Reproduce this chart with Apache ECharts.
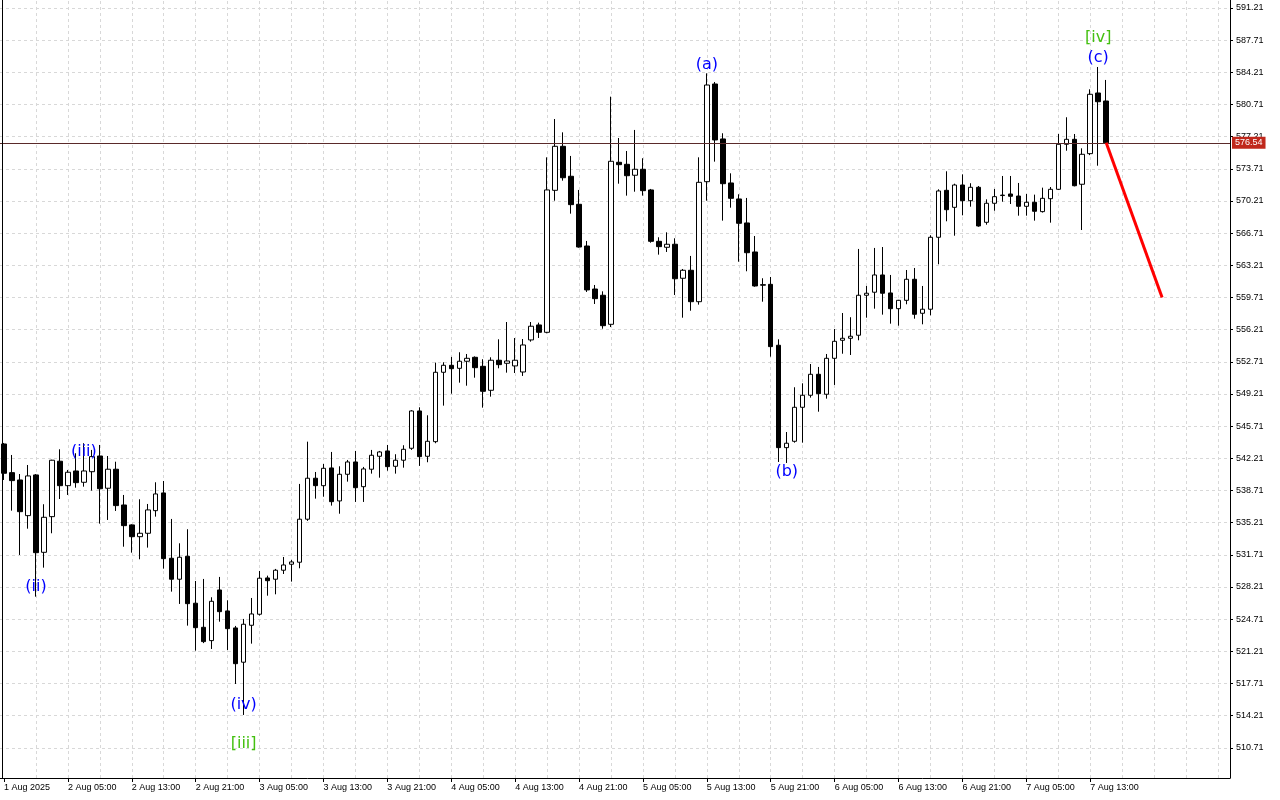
<!DOCTYPE html>
<html><head><meta charset="utf-8">
<script src="https://cdn.jsdelivr.net/npm/echarts@6/dist/echarts.min.js"></script>
<style>html,body{margin:0;padding:0;background:#fff}#c{width:1280px;height:800px}</style>
</head><body><div id="c"></div>
<script>
// hourly bars starting 1 Aug 2025 21:00
const opens = [543.77,540.65,539.85,535.97,540.40,531.98,535.86,541.89,539.23,540.83,539.60,540.75,542.46,538.95,541.02,537.13,534.96,533.68,534.05,536.51,
538.44,531.33,529.05,531.55,526.44,523.82,522.37,527.88,525.60,523.75,520.02,524.04,525.24,529.19,529.05,530.03,530.68,530.90,535.58,540.04,
539.23,541.16,537.57,540.47,541.81,539.12,541.02,542.43,543.01,541.34,542.00,543.30,547.36,542.43,544.02,551.57,552.33,552.00,552.77,553.20,
552.22,549.61,552.88,552.55,552.26,551.60,555.09,556.72,555.92,571.37,576.16,572.90,569.85,565.31,560.63,559.95,556.79,574.42,574.20,573.01,
573.66,571.41,565.82,565.17,565.50,561.80,562.67,559.25,572.31,582.94,576.96,572.17,570.43,567.82,564.66,561.10,561.14,554.51,543.37,544.06,
547.76,549.07,551.35,549.18,553.09,555.05,555.27,555.60,559.95,560.28,562.16,560.20,558.49,559.40,561.69,557.99,558.43,566.26,571.37,569.52,
571.95,570.24,571.70,567.89,569.96,570.80,570.97,570.75,569.63,570.07,569.05,570.46,571.48,576.38,576.92,572.03,575.36,581.96,581.09];
const highs = [543.88,542.57,540.50,541.48,540.50,537.21,542.05,543.19,540.94,542.76,543.85,543.12,543.66,542.46,541.84,538.22,535.03,537.75,537.24,539.60,
539.74,535.61,532.96,534.49,528.86,529.08,527.09,529.30,526.76,523.97,524.73,527.01,529.95,529.44,530.17,531.47,531.15,539.42,544.02,540.72,
541.59,542.90,541.34,542.03,543.01,541.27,543.12,543.01,543.66,542.65,543.63,547.45,547.76,546.89,552.62,552.66,553.24,553.75,553.56,553.30,
552.99,553.20,555.16,557.04,555.30,555.19,557.04,556.97,574.96,579.13,577.68,575.11,571.41,565.86,561.07,560.38,581.56,577.06,575.65,577.94,
574.86,571.52,566.26,566.80,566.15,562.81,564.23,574.96,584.10,583.16,577.58,573.22,570.94,570.54,566.40,561.80,561.94,555.16,545.07,549.94,
550.37,552.47,552.15,553.56,556.28,558.02,557.56,564.99,560.96,565.10,565.20,562.16,559.45,562.70,562.92,560.96,566.48,571.48,573.44,572.09,
573.11,572.14,571.84,570.39,571.52,572.93,572.93,572.17,570.97,570.90,571.66,571.73,577.50,579.32,577.50,575.94,582.36,584.79,583.38];
const lows = [539.85,536.51,531.69,534.55,527.15,530.31,534.05,537.78,538.22,539.01,539.12,538.69,535.10,535.50,536.48,532.59,531.94,531.22,532.49,535.86,
530.20,527.70,526.36,524.00,521.28,522.10,521.46,524.43,521.35,517.65,514.28,522.04,525.10,527.26,527.41,529.62,528.79,530.24,535.40,537.82,
538.03,537.06,536.18,539.67,537.46,537.46,540.54,540.10,540.86,540.54,541.19,543.12,541.38,541.78,543.85,547.94,549.24,550.44,550.11,550.98,
547.72,548.92,552.00,551.53,551.49,551.17,554.90,555.30,555.81,570.24,572.42,568.83,565.13,560.31,559.00,556.31,556.49,572.09,570.79,571.22,
570.79,565.67,564.37,564.66,559.98,557.51,558.27,558.93,570.24,574.49,568.07,569.48,563.60,562.56,560.88,559.25,553.27,541.81,541.70,543.91,
543.91,548.81,547.28,548.70,550.19,553.59,553.45,555.05,557.51,558.49,557.84,556.86,556.64,558.97,557.40,556.79,557.77,563.32,568.00,566.43,
568.65,569.59,567.41,567.63,569.15,570.13,569.88,568.61,568.61,568.07,568.95,567.85,571.40,575.68,571.80,567.05,575.20,574.05,576.50];
const closes = [540.58,539.78,536.40,540.29,531.94,535.79,542.00,539.23,540.69,539.56,540.83,542.39,538.90,541.02,537.06,534.88,533.68,534.05,536.59,538.33,
531.29,529.05,531.44,526.39,523.78,522.26,526.65,525.52,523.67,519.86,524.15,525.27,529.16,528.89,530.03,530.60,530.93,535.58,540.04,539.23,
541.12,537.49,540.47,541.81,539.01,541.05,542.54,542.90,541.30,542.00,543.19,547.36,542.39,544.06,551.57,552.33,551.96,552.77,553.09,552.07,
549.50,552.88,552.40,552.80,552.88,554.54,556.58,555.92,571.41,576.16,572.74,569.81,565.20,560.53,559.58,556.64,574.53,574.16,572.96,573.66,
571.33,565.82,565.24,565.50,561.75,562.67,559.25,572.24,582.83,576.85,572.09,570.50,567.78,564.58,560.96,561.05,554.36,543.37,543.85,547.76,
549.07,551.35,549.24,553.09,554.94,555.27,555.49,559.95,560.17,562.16,560.17,558.49,559.40,561.69,557.88,558.43,566.26,571.30,569.26,571.95,
570.24,571.70,567.49,569.96,570.68,570.85,570.72,569.63,570.07,569.09,570.50,571.48,576.38,576.92,571.87,575.29,581.82,581.01,576.54];

const yTickLabels = [510.71,514.21,517.71,521.21,524.71,528.21,531.71,535.21,538.71,542.21,545.71,549.21,552.71,556.21,559.71,563.21,566.71,570.21,573.71,577.21,580.71,584.21,587.71,591.21];
const xTickLabels = ["1 Aug 2025","2 Aug 05:00","2 Aug 13:00","2 Aug 21:00","3 Aug 05:00","3 Aug 13:00","3 Aug 21:00","4 Aug 05:00","4 Aug 13:00","4 Aug 21:00","5 Aug 05:00","5 Aug 13:00","5 Aug 21:00","6 Aug 05:00","6 Aug 13:00","6 Aug 21:00","7 Aug 05:00","7 Aug 13:00"];
const lastPrice = 576.54;
const forecastIdx = [138, 145];
const forecastVal = [576.54, 559.70];
const waveNames = ["(ii)","(iii)","(iv)","[iii]","(a)","(b)","(c)","[iv]"];
const waveIdx = [4, 10, 30, 30, 88, 98, 137, 137];
const waveVal = [528.21, 542.90, 515.37, 511.13, 585.01, 540.72, 585.77, 587.95];
const waveColors = ["#0000ff","#0000ff","#0000ff","#44c010","#0000ff","#0000ff","#0000ff","#44c010"];

const totalSlots = 154;
const categories = [];
for (let i = 0; i < totalSlots; i++) {
  const h = 21 + i;
  const d = 1 + Math.floor(h / 24);
  const hh = h % 24;
  categories.push(d + " Aug " + (hh < 10 ? "0" : "") + hh + ":00");
}
const candles = opens.map((o, i) => [o, closes[i], lows[i], highs[i]]);

const gridLines = yTickLabels.map(v => ({ yAxis: v }));
for (let i = 4; i < totalSlots; i += 4) gridLines.push({ xAxis: categories[i] });

const labelInterval = (i) => i % 8 === 0 && i / 8 < xTickLabels.length;

const chart = echarts.init(document.getElementById('c'), null, { renderer: 'canvas' });
chart.setOption({
  animation: false,
  backgroundColor: '#ffffff',
  textStyle: { fontFamily: 'Liberation Sans' },
  grid: { left: -2, right: 50, top: 0, bottom: 22, containLabel: false },
  xAxis: {
    type: 'category', data: categories, boundaryGap: true,
    axisLine: { show: true, lineStyle: { color: '#000', width: 1 } },
    axisTick: { show: true, interval: labelInterval, alignWithLabel: true, length: 4, lineStyle: { color: '#000' } },
    axisLabel: { show: true, interval: labelInterval, align: 'left', margin: 5, fontSize: 9, color: '#000',
      formatter: (v, i) => xTickLabels[i / 8] || '' },
    splitLine: { show: false }
  },
  yAxis: {
    type: 'value', position: 'right', min: 507.42, max: 592.08, scale: true,
    axisLine: { show: true, lineStyle: { color: '#000', width: 1 } },
    axisTick: { show: true, length: 3, customValues: yTickLabels, lineStyle: { color: '#000' } },
    axisLabel: { show: true, customValues: yTickLabels, fontSize: 9, color: '#000', margin: 6,
      formatter: v => v.toFixed(2) },
    splitLine: { show: false }
  },
  graphic: [{ type: 'line', shape: { x1: 2.5, y1: 0, x2: 2.5, y2: 778 }, style: { stroke: '#000', lineWidth: 1 }, z: 100 }],
  series: [
    {
      type: 'line', data: categories.map(() => null), silent: true, z: 0,
      markLine: { silent: true, symbol: 'none', z: 0, animation: false,
        lineStyle: { color: '#d8d8d8', type: [3, 3], width: 1 }, label: { show: false }, data: gridLines }
    },
    {
      type: 'candlestick', data: candles, barWidth: 5, z: 2,
      itemStyle: { color: '#ffffff', color0: '#000000', borderColor: '#000000', borderColor0: '#000000', borderWidth: 1 },
      markLine: { silent: true, symbol: 'none', animation: false,
        lineStyle: { color: '#5a2a2a', type: 'solid', width: 1 },
        label: { show: true, position: 'end', formatter: lastPrice.toFixed(2), color: '#fff', fontSize: 9,
          backgroundColor: '#c0281c', padding: [2, 3, 1, 3], distance: 2 },
        data: [{ yAxis: lastPrice }] }
    },
    {
      type: 'line', data: forecastIdx.map((x, i) => [x, forecastVal[i]]), symbol: 'none', z: 5,
      lineStyle: { color: '#ff0000', width: 3 }
    },
    {
      type: 'scatter', symbolSize: 0, z: 6, silent: true,
      itemStyle: { opacity: 1 },
      data: waveNames.map((n, i) => ({ name: n, value: [waveIdx[i], waveVal[i]],
        label: { color: waveColors[i], opacity: 1 } })),
      label: { show: true, position: 'inside', formatter: p => p.name, fontSize: 16, fontFamily: 'DejaVu Sans', opacity: 1 }
    }
  ]
});
</script></body></html>
